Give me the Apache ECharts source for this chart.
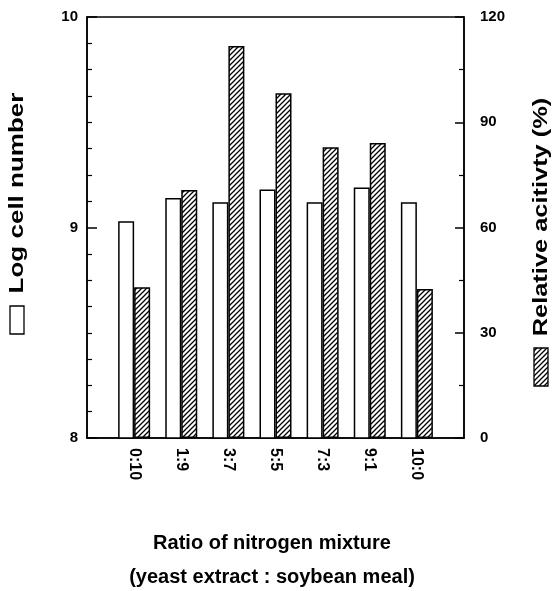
<!DOCTYPE html>
<html>
<head>
<meta charset="utf-8">
<script src="https://cdn.jsdelivr.net/npm/echarts@6/dist/echarts.min.js"></script>
<style>
  html, body { margin: 0; padding: 0; background: #fff; }
  #chart { width: 560px; height: 591px; }
</style>
</head>
<body>
<div id="chart"></div>
<script>
  // ratios of yeast extract : soybean meal
  const ratios = ['0:10', '1:9', '3:7', '5:5', '7:3', '9:1', '10:0'];
  // log cell number (left axis)
  const logCellNumber = [9.03, 9.14, 9.12, 9.18, 9.12, 9.19, 9.12];
  // relative activity in % (right axis)
  const relativeActivity = [43.0, 70.7, 111.7, 98.3, 82.9, 84.1, 42.5];
  const leftTicks = [8, 9, 10];
  const rightTicks = [0, 30, 60, 90, 120];

  const FONT = '"Liberation Sans", Arial, sans-serif';

  // diagonal hatch pattern
  const makeHatch = () => {
    const s = 5;
    const c = document.createElement('canvas');
    c.width = s; c.height = s;
    const ctx = c.getContext('2d');
    ctx.fillStyle = '#fff';
    ctx.fillRect(0, 0, s, s);
    ctx.strokeStyle = '#000';
    ctx.lineWidth = 1.3;
    ctx.beginPath();
    ctx.moveTo(-1, s + 1); ctx.lineTo(s + 1, -1);
    ctx.moveTo(-1, 1); ctx.lineTo(1, -1);
    ctx.moveTo(s - 1, s + 1); ctx.lineTo(s + 1, s - 1);
    ctx.stroke();
    return c;
  };
  const hatch = { image: makeHatch(), repeat: 'repeat' };

  // empty slot at both ends so the groups sit on the tick points
  const cats = [''].concat(ratios, ['']);
  const pad = arr => ['-'].concat(arr, ['-']);

  const chart = echarts.init(document.getElementById('chart'));

  const option = {
    animation: false,
    backgroundColor: '#fff',
    grid: {
      left: 87, right: 96, top: 17, bottom: 153,
      show: true, borderColor: '#000', borderWidth: 1.5, backgroundColor: 'transparent'
    },
    xAxis: {
      type: 'category',
      data: cats,
      boundaryGap: false,
      axisLine: { lineStyle: { color: '#000', width: 1.5 } },
      axisTick: { show: false },
      axisLabel: {
        rotate: -90,
        margin: 10,
        color: '#000',
        fontFamily: FONT,
        fontWeight: 'bold',
        fontSize: 16,
        interval: 0
      },
      splitLine: { show: false }
    },
    yAxis: [
      {
        type: 'value',
        min: leftTicks[0],
        max: leftTicks[leftTicks.length - 1],
        interval: 1,
        axisLine: { show: true, lineStyle: { color: '#000', width: 1.5 } },
        axisTick: { show: true, inside: true, length: 10, lineStyle: { color: '#000', width: 1.5 } },
        minorTick: { show: true, splitNumber: 8, length: 5, lineStyle: { color: '#000', width: 1.2 } },
        axisLabel: {
          margin: 9, color: '#000', fontFamily: FONT, fontWeight: 'bold', fontSize: 15
        },
        splitLine: { show: false }
      },
      {
        type: 'value',
        position: 'right',
        min: rightTicks[0],
        max: rightTicks[rightTicks.length - 1],
        interval: 30,
        axisLine: { show: true, lineStyle: { color: '#000', width: 1.5 } },
        axisTick: { show: true, inside: true, length: 9, lineStyle: { color: '#000', width: 1.5 } },
        minorTick: { show: true, splitNumber: 2, length: 5, lineStyle: { color: '#000', width: 1.2 } },
        axisLabel: {
          margin: 16, color: '#000', fontFamily: FONT, fontWeight: 'bold', fontSize: 15
        },
        splitLine: { show: false }
      }
    ],
    series: [
      {
        name: 'Log cell number',
        type: 'bar',
        yAxisIndex: 0,
        data: pad(logCellNumber),
        barWidth: 16,
        barGap: '0%',
        itemStyle: { color: '#fff', borderColor: '#000', borderWidth: 1.5 }
      },
      {
        name: 'Relative acitivty (%)',
        type: 'bar',
        yAxisIndex: 1,
        data: pad(relativeActivity),
        barWidth: 16,
        barGap: '0%',
        itemStyle: { color: hatch, borderColor: '#000', borderWidth: 1.5 }
      }
    ],
    graphic: [
      // x axis titles
      {
        type: 'text', x: 272, y: 543,
        style: {
          text: 'Ratio of nitrogen mixture', fill: '#000',
          font: 'bold 20px ' + FONT, textAlign: 'center', textVerticalAlign: 'middle'
        }
      },
      {
        type: 'text', x: 272, y: 577,
        style: {
          text: '(yeast extract : soybean meal)', fill: '#000',
          font: 'bold 20px ' + FONT, textAlign: 'center', textVerticalAlign: 'middle'
        }
      },
      // left legend / axis name
      {
        type: 'text', x: 17, y: 193, rotation: Math.PI / 2, scaleX: 1.3,
        style: {
          text: 'Log cell number', fill: '#000',
          font: 'bold 20px ' + FONT, textAlign: 'center', textVerticalAlign: 'middle'
        }
      },
      {
        type: 'rect', shape: { x: 10, y: 306, width: 14, height: 28 },
        style: { fill: '#fff', stroke: '#000', lineWidth: 1.3 }
      },
      // right legend / axis name
      {
        type: 'text', x: 541, y: 217, rotation: Math.PI / 2, scaleX: 1.27,
        style: {
          text: 'Relative acitivty (%)', fill: '#000',
          font: 'bold 20px ' + FONT, textAlign: 'center', textVerticalAlign: 'middle'
        }
      },
      {
        type: 'rect', shape: { x: 534, y: 348, width: 14, height: 38 },
        style: { fill: hatch, stroke: '#000', lineWidth: 1.3 }
      }
    ]
  };

  chart.setOption(option);
</script>
</body>
</html>
